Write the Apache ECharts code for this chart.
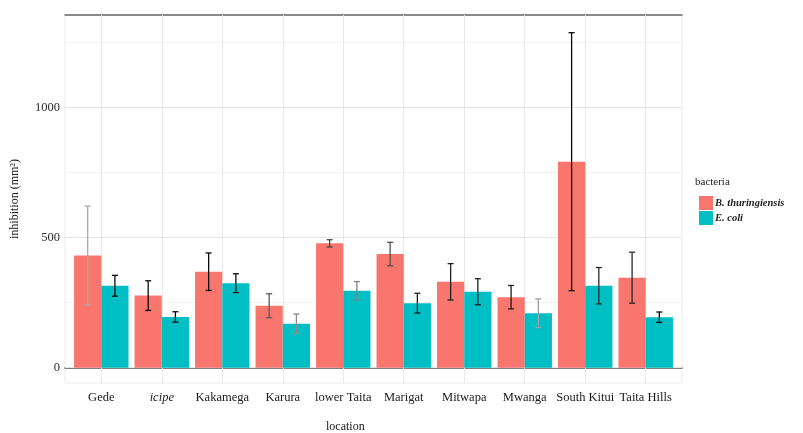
<!DOCTYPE html>
<html>
<head>
<meta charset="utf-8">
<title>Inhibition zones by location</title>
<script src="https://cdn.jsdelivr.net/npm/echarts@6/dist/echarts.min.js"></script>
<style>
  html, body { margin: 0; padding: 0; background: #ffffff; }
  #chart { width: 803px; height: 433px; }
</style>
</head>
<body>
<div id="chart"></div>
<script>
// Sampling sites
const categories = ['Gede', 'icipe', 'Kakamega', 'Karura', 'lower Taita', 'Marigat', 'Mitwapa', 'Mwanga', 'South Kitui', 'Taita Hills'];

// Mean inhibition zone (mm²) and error half-width per site
const btMean = [431, 277, 369, 238, 478, 437, 330, 271, 792, 346];
const btErr  = [190, 57, 72, 46, 14, 45, 70, 45, 496, 98];
const ecMean = [315, 195, 325, 169, 296, 248, 292, 209, 315, 194];
const ecErr  = [40, 20, 36, 37, 35, 38, 50, 55, 70, 20];

// Error-bar ink per site (0 = black, 1 = pale)
const btErrTint = [0.85, 0.05, 0.05, 0.45, 0.35, 0.4, 0.15, 0.15, 0.05, 0.2];
const ecErrTint = [0.05, 0.05, 0.05, 0.7, 0.65, 0.15, 0.15, 0.8, 0.2, 0.05];

// Axis ticks
const yMajor = [0, 500, 1000];
const yMinor = [250, 750, 1250];

const seriesNames = ['B. thuringiensis', 'E. coli'];
const colors = ['#F8766D', '#00BFC4'];
const FONT = '"Liberation Serif", "DejaVu Serif", serif';

const dodge = 0.45;     // each bar takes half of a 0.9-wide group
const capHalf = 0.05;   // error-bar cap half-width in category units

function barRenderer(offset) {
  return function (params, api) {
    const x = api.value(0), v = api.value(1);
    const a = api.coord([x + offset, v]);
    const b = api.coord([x + offset + dodge, 0]);
    return {
      type: 'rect',
      shape: { x: a[0], y: a[1], width: b[0] - a[0], height: b[1] - a[1] },
      style: { fill: api.visual('color') }
    };
  };
}

function errRenderer(params, api) {
  const x = api.value(0), m = api.value(1), e = api.value(2), t = api.value(3);
  const g = Math.round(t * 200);
  const stroke = 'rgb(' + g + ',' + g + ',' + g + ')';
  const top = api.coord([x, m + e]);
  const bot = api.coord([x, m - e]);
  const l = api.coord([x - capHalf, m])[0];
  const r = api.coord([x + capHalf, m])[0];
  const style = { stroke: stroke, lineWidth: 1.3 };
  return {
    type: 'group',
    children: [
      { type: 'line', shape: { x1: top[0], y1: top[1], x2: bot[0], y2: bot[1] }, style: style },
      { type: 'line', shape: { x1: l, y1: top[1], x2: r, y2: top[1] }, style: style },
      { type: 'line', shape: { x1: l, y1: bot[1], x2: r, y2: bot[1] }, style: style }
    ]
  };
}

const btData = categories.map((c, i) => [i, btMean[i]]);
const ecData = categories.map((c, i) => [i, ecMean[i]]);
const errData = [];
categories.forEach((c, i) => {
  errData.push([i - dodge / 2, btMean[i], btErr[i], btErrTint[i]]);
  errData.push([i + dodge / 2, ecMean[i], ecErr[i], ecErrTint[i]]);
});

// Panel grid lines
const gridLines = []
  .concat(yMinor.map(v => ({ yAxis: v, lineStyle: { color: '#f3f3f3', width: 1, type: 'solid' } })))
  .concat(yMajor.map(v => ({ yAxis: v, lineStyle: { color: '#e6e6e6', width: 1, type: 'solid' } })))
  .concat(categories.map((c, i) => ({ xAxis: i, lineStyle: { color: '#e9e9e9', width: 1, type: 'solid' } })));

const chart = echarts.init(document.getElementById('chart'), null, { renderer: 'canvas' });

chart.setOption({
  animation: false,
  backgroundColor: '#ffffff',
  textStyle: { fontFamily: FONT },
  grid: {
    left: 65, right: 121, top: 15, bottom: 50,
    show: true, borderColor: '#ececec', borderWidth: 1
  },
  xAxis: [{
    type: 'value',
    min: -0.6, max: 9.6,
    axisLine: { show: true, lineStyle: { color: '#555555', width: 1.5 } },
    axisTick: { show: true, customValues: categories.map((c, i) => i), length: 3, lineStyle: { color: '#555555' } },
    axisLabel: {
      customValues: categories.map((c, i) => i),
      margin: 8,
      fontFamily: FONT, fontSize: 12.5, color: '#1a1a1a',
      formatter: v => {
        const name = categories[Math.round(v)];
        return name === 'icipe' ? '{it|' + name + '}' : name;
      },
      rich: { it: { fontStyle: 'italic', fontFamily: FONT, fontSize: 12.5, color: '#1a1a1a' } }
    },
    splitLine: { show: false }
  }, {
    type: 'value',
    position: 'top',
    min: -0.6, max: 9.6,
    axisLine: { show: true, lineStyle: { color: '#666666', width: 1.5 } },
    axisTick: { show: false },
    axisLabel: { show: false },
    splitLine: { show: false }
  }],
  yAxis: {
    type: 'value',
    min: -59, max: 1356,
    name: 'inhibition (mm²)',
    nameLocation: 'middle',
    nameGap: 44,
    nameTextStyle: { fontFamily: FONT, fontSize: 12, color: '#1a1a1a' },
    axisLine: { show: false },
    axisTick: { show: true, customValues: yMajor, length: 3, lineStyle: { color: '#555555' } },
    axisLabel: {
      customValues: yMajor,
      margin: 5,
      fontFamily: FONT, fontSize: 12.5, color: '#2b2b2b',
      formatter: v => String(v)
    },
    splitLine: { show: false }
  },
  legend: {
    orient: 'vertical',
    left: 694, top: 191,
    itemWidth: 14, itemHeight: 14, itemGap: 1,
    icon: 'rect',
    data: seriesNames,
    textStyle: { fontFamily: FONT, fontSize: 10.5, fontStyle: 'italic', fontWeight: 'bold', color: '#222222', padding: [0, 0, 0, -3] }
  },
  graphic: [
    { type: 'text', left: 695, top: 177, style: { text: 'bacteria', font: '11px ' + FONT, fill: '#222222' } },
    { type: 'text', left: 326, top: 421, style: { text: 'location', font: '12px ' + FONT, fill: '#1a1a1a' } }
  ],
  series: [
    {
      type: 'line', data: [], silent: true, z: 1,
      markLine: { silent: true, symbol: 'none', z: 1, label: { show: false }, animation: false, data: gridLines }
    },
    {
      name: seriesNames[0], type: 'custom', renderItem: barRenderer(-dodge),
      itemStyle: { color: colors[0] }, data: btData, z: 4
    },
    {
      name: seriesNames[1], type: 'custom', renderItem: barRenderer(0),
      itemStyle: { color: colors[1] }, data: ecData, z: 4
    },
    {
      type: 'custom', renderItem: errRenderer, data: errData, z: 5, silent: true
    }
  ]
});
</script>
</body>
</html>
